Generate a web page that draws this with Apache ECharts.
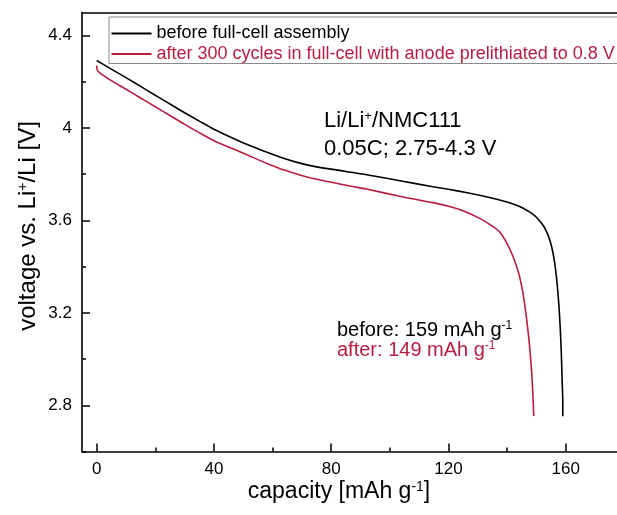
<!DOCTYPE html>
<html>
<head>
<meta charset="utf-8">
<script src="https://cdn.jsdelivr.net/npm/echarts@6/dist/echarts.min.js"></script>
<style>html,body{margin:0;padding:0;background:#fff}#c{width:617px;height:515px}</style>
</head>
<body>
<div id="c"></div>
<script>
// ---- data ----
const seriesNames = ['before full-cell assembly', 'after 300 cycles in full-cell with anode prelithiated to 0.8 V'];
const capBefore = [0, 5, 10, 15, 20, 25, 30, 35, 40, 46.5, 52, 57.9, 64, 69.3, 75, 80.6, 86, 92, 103, 114.7, 120, 126, 131, 136.5, 140, 143, 145.5, 147.5, 149.5, 151, 152.5, 153.7, 154.7, 155.5, 156.2, 156.8, 157.4, 157.9, 158.3, 158.6, 158.8, 159, 159];
const voltBefore = [4.292, 4.255, 4.218, 4.180, 4.142, 4.104, 4.066, 4.030, 3.995, 3.956, 3.925, 3.896, 3.868, 3.848, 3.832, 3.821, 3.810, 3.798, 3.773, 3.746, 3.735, 3.721, 3.708, 3.692, 3.680, 3.667, 3.653, 3.638, 3.620, 3.600, 3.575, 3.545, 3.510, 3.470, 3.420, 3.360, 3.280, 3.190, 3.090, 2.990, 2.900, 2.820, 2.753];
const capAfter = [0, 0.3, 1.5, 5, 10, 15, 20, 25, 30, 35, 40, 46.5, 52, 57.9, 64, 69.3, 75, 80.6, 86, 92, 103.3, 114.7, 121, 126, 131, 135, 137.5, 140, 142, 144, 145.5, 146.5, 147.5, 148.3, 148.8, 149.1];
const voltAfter = [4.270, 4.248, 4.234, 4.205, 4.168, 4.130, 4.092, 4.054, 4.016, 3.980, 3.945, 3.910, 3.880, 3.848, 3.818, 3.797, 3.778, 3.764, 3.750, 3.736, 3.705, 3.677, 3.658, 3.637, 3.607, 3.575, 3.550, 3.500, 3.445, 3.370, 3.280, 3.190, 3.080, 2.960, 2.850, 2.753];
const xMajorTicks = [0, 40, 80, 120, 160];
const xMinorTicks = [20, 60, 100, 140];
const yMajorTicks = [2.8, 3.2, 3.6, 4, 4.4];
const yMinorTicks = [2.6, 3.0, 3.4, 3.8, 4.2];
const xRange = [-5, 177.5];
const yRange = [2.6, 4.5];

const BLACK = '#000000';
const RED = '#b81c40';
const FONT = 'Liberation Sans, Arial, sans-serif';

function pairs(xs, ys) { return xs.map((x, i) => [x, ys[i]]); }

const chart = echarts.init(document.getElementById('c'), null, {renderer: 'canvas'});
const axisLineStyle = {color: '#000', width: 1.6};
const tickStyle = {color: '#000', width: 1.5};
const option = {
  animation: false,
  backgroundColor: '#fff',
  grid: {left: 82, top: 12.5, width: 535, height: 439, show: false},
  legend: {
    left: 109, top: 17, orient: 'vertical',
    borderColor: '#8a8a8a', borderWidth: 1,
    padding: [7.5, 6, 0.5, 2.5],
    itemGap: 2.5, itemWidth: 40, itemHeight: 1.8, icon: 'rect',
    textStyle: {fontFamily: FONT, fontSize: 18, lineHeight: 18},
    data: [
      {name: seriesNames[0], textStyle: {color: BLACK}},
      {name: seriesNames[1], textStyle: {color: RED}}
    ]
  },
  xAxis: [
    {type: 'value', min: xRange[0], max: xRange[1], position: 'bottom',
      axisLine: {show: true, onZero: false, lineStyle: axisLineStyle},
      axisTick: {show: true, inside: true, length: 8, lineStyle: tickStyle, customValues: xMajorTicks},
      axisLabel: {show: true, margin: 9, fontFamily: FONT, fontSize: 17, color: '#000', customValues: xMajorTicks, formatter: v => String(v)},
      splitLine: {show: false}},
    {type: 'value', min: xRange[0], max: xRange[1], position: 'bottom',
      axisLine: {show: false, onZero: false},
      axisTick: {show: true, inside: true, length: 4, lineStyle: tickStyle, customValues: xMinorTicks},
      axisLabel: {show: false},
      splitLine: {show: false}},
    {type: 'value', min: xRange[0], max: xRange[1], position: 'top',
      axisLine: {show: true, onZero: false, lineStyle: axisLineStyle},
      axisTick: {show: false}, axisLabel: {show: false}, splitLine: {show: false}}
  ],
  yAxis: [
    {type: 'value', min: yRange[0], max: yRange[1], position: 'left',
      axisLine: {show: true, onZero: false, lineStyle: axisLineStyle},
      axisTick: {show: true, inside: true, length: 8, lineStyle: tickStyle, customValues: yMajorTicks},
      axisLabel: {show: true, margin: 10, fontFamily: FONT, fontSize: 17, color: '#000', customValues: yMajorTicks, formatter: v => String(Math.round(v * 10) / 10)},
      splitLine: {show: false}},
    {type: 'value', min: yRange[0], max: yRange[1], position: 'left',
      axisLine: {show: false, onZero: false},
      axisTick: {show: true, inside: true, length: 4, lineStyle: tickStyle, customValues: yMinorTicks},
      axisLabel: {show: false},
      splitLine: {show: false}}
  ],
  series: [
    {name: seriesNames[0], type: 'line', data: pairs(capBefore, voltBefore), xAxisIndex: 0, yAxisIndex: 0,
      symbol: 'none', smooth: 0.25, lineStyle: {color: BLACK, width: 1.6}, itemStyle: {color: BLACK}, z: 3},
    {name: seriesNames[1], type: 'line', data: pairs(capAfter, voltAfter), xAxisIndex: 0, yAxisIndex: 0,
      symbol: 'none', smooth: 0.25, lineStyle: {color: RED, width: 1.6}, itemStyle: {color: RED}, z: 2}
  ],
  graphic: [
    {type: 'text', left: 324, top: 110, style: {text: 'Li/Li{sup|+}/NMC111', fontFamily: FONT, fontSize: 22, fill: '#000',
      rich: {sup: {fontSize: 13, lineHeight: 6, verticalAlign: 'top', fill: '#000', fontFamily: FONT}}}},
    {type: 'text', left: 324, top: 138, style: {text: '0.05C; 2.75-4.3 V', fontFamily: FONT, fontSize: 22, fill: '#000'}},
    {type: 'text', left: 337, top: 320, style: {text: 'before: 159 mAh g{sup|-1}', fontFamily: FONT, fontSize: 20, fill: '#000',
      rich: {sup: {fontSize: 12, lineHeight: 6, verticalAlign: 'top', fill: '#000', fontFamily: FONT}}}},
    {type: 'text', left: 337, top: 340, style: {text: 'after: 149 mAh g{sup|-1}', fontFamily: FONT, fontSize: 20, fill: RED,
      rich: {sup: {fontSize: 12, lineHeight: 6, verticalAlign: 'top', fill: RED, fontFamily: FONT}}}},
    {type: 'text', x: 339, y: 492, style: {text: 'capacity [mAh g{sup|-1}]', fontFamily: FONT, fontSize: 23, fill: '#000', align: 'center', verticalAlign: 'middle',
      rich: {sup: {fontSize: 14, lineHeight: 6, verticalAlign: 'top', fill: '#000', fontFamily: FONT}}}},
    {type: 'text', x: 28, y: 226, rotation: Math.PI / 2, style: {text: 'voltage vs. Li{sup|+}/Li [V]', fontFamily: FONT, fontSize: 24, fill: '#000', align: 'center', verticalAlign: 'middle',
      rich: {sup: {fontSize: 14, lineHeight: 6, verticalAlign: 'top', fill: '#000', fontFamily: FONT}}}}
  ]
};
chart.setOption(option);
</script>
</body>
</html>
